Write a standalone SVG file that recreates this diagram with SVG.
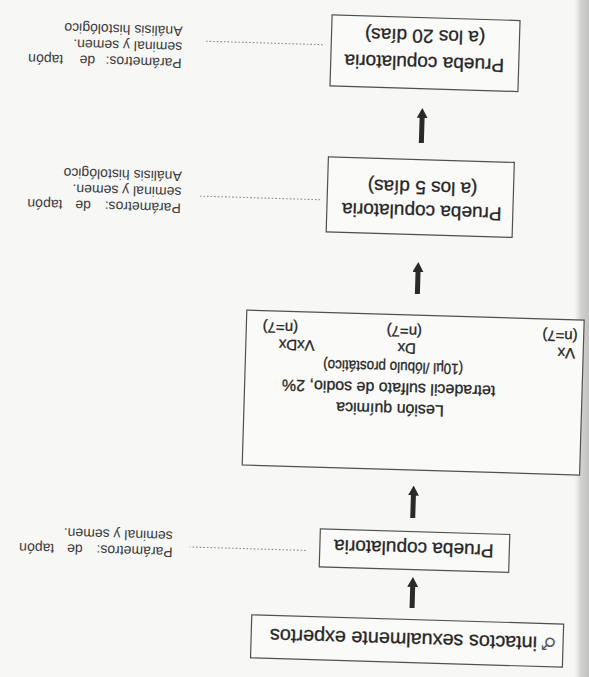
<svg xmlns="http://www.w3.org/2000/svg" width="589" height="677" viewBox="0 0 589 677">
<defs>
<linearGradient id="edge" x1="0" x2="1" y1="0" y2="0">
<stop offset="0" stop-color="#e2e2e0" stop-opacity="0"/>
<stop offset="0.45" stop-color="#d2d2d0"/>
<stop offset="1" stop-color="#c2c2c0"/>
</linearGradient>
<marker id="ah" markerUnits="userSpaceOnUse" markerWidth="10" markerHeight="11" viewBox="0 0 10 11" refX="3" refY="5.5" orient="auto">
<path d="M0,0 L10,5.5 L0,11 z" fill="#2a2a2a"/>
</marker>
<style>
.box{fill:#fafaf8;stroke:#505050;stroke-width:1.2}
.t{font-family:"Liberation Sans",Arial,sans-serif;fill:#262626;stroke:#262626;stroke-width:0.3}
.main{font-size:19px}
.les{font-size:16px}
.sm{font-size:15px}
.note{font-size:14px;fill:#3a3a3a;stroke:none}
.mid{text-anchor:middle}
.end{text-anchor:end}
.arrow{stroke:#2a2a2a;stroke-width:5;marker-end:url(#ah)}
.dot{stroke:#8a8a8a;stroke-width:1.1;stroke-dasharray:1.6 2}
</style>
</defs>
<rect width="589" height="677" fill="#f7f7f5"/>
<rect x="574" y="0" width="15" height="677" fill="url(#edge)"/>
<g transform="rotate(181.7 294.5 338.5)">
<g id="connectors">
<line class="arrow" x1="169" y1="72.6" x2="169" y2="96.6"/>
<line class="arrow" x1="171" y1="162.6" x2="171" y2="188"/>
<line class="arrow" x1="173" y1="386.6" x2="173" y2="411.6"/>
<line class="arrow" x1="173.5" y1="537.7" x2="173.5" y2="565.7"/>
<line class="dot" x1="277" y1="127" x2="393" y2="127"/>
<line class="dot" x1="273" y1="478" x2="393" y2="478"/>
<line class="dot" x1="275" y1="633" x2="393" y2="633"/>
</g>
<g id="node-start">
<rect class="box" x="17" y="18" width="312" height="43"/>
<text x="24" y="47" style="font-family:'DejaVu Sans',sans-serif;font-size:17px;fill:#555">♂</text>
<text class="t" x="43" y="47.5" style="font-size:19.8px">intactos sexualmente expertos</text>
</g>
<g id="node-prueba1">
<rect class="box" x="73.5" y="111" width="189.5" height="38"/>
<text class="t main mid" x="169" y="138.5">Prueba copulatoria</text>
</g>
<g id="note-prueba1">
<text class="t note"><tspan x="410" y="126">Parámetros:</tspan><tspan x="500" y="126">de</tspan><tspan class="end" x="563.5" y="126">tapón</tspan><tspan x="410.5" y="142">seminal y semen.</tspan></text>
</g>
<g id="node-lesion">
<rect class="box" x="5.5" y="210.5" width="337.5" height="155"/>
<text class="t les mid" x="197" y="276">Lesión química</text>
<text class="t les mid" x="199" y="297">tetradecil sulfato de sodio, 2%</text>
<text class="t sm mid" x="195" y="318" textLength="140" lengthAdjust="spacingAndGlyphs">(10µl /lóbulo prostático)</text>
<text class="t sm" x="13.5" y="337">Vx</text>
<text class="t sm mid" x="182" y="337">Dx</text>
<text class="t sm mid" x="292" y="337">VxDx</text>
<text class="t sm" x="11.5" y="354">(n=7)</text>
<text class="t sm mid" x="185" y="354">(n=7)</text>
<text class="t sm mid" x="309" y="354">(n=7)</text>
</g>
<g id="node-prueba5">
<rect class="box" x="80" y="446" width="186" height="75"/>
<text class="t main mid" x="171" y="475.5">Prueba copulatoria</text>
<text class="t main mid" x="171" y="499.5">(a los 5 días)</text>
</g>
<g id="note-prueba5">
<text class="t note"><tspan x="412" y="470">Parámetros:</tspan><tspan x="502" y="470">de</tspan><tspan class="end" x="565.5" y="470">tapón</tspan><tspan x="412" y="486">seminal y semen.</tspan><tspan x="412" y="502">Análisis histológico</tspan></text>
</g>
<g id="node-prueba20">
<rect class="box" x="78.5" y="592" width="188" height="71"/>
<text class="t main mid" x="173" y="624">Prueba copulatoria</text>
<text class="t main mid" x="173" y="651">(a los 20 días)</text>
</g>
<g id="note-prueba20">
<text class="t note"><tspan x="415.5" y="615">Parámetros:</tspan><tspan x="502" y="615">de</tspan><tspan class="end" x="569" y="615">tapón</tspan><tspan x="415.5" y="631">seminal y semen.</tspan><tspan x="415.5" y="647">Análisis histológico</tspan></text>
</g>
</g>
</svg>
